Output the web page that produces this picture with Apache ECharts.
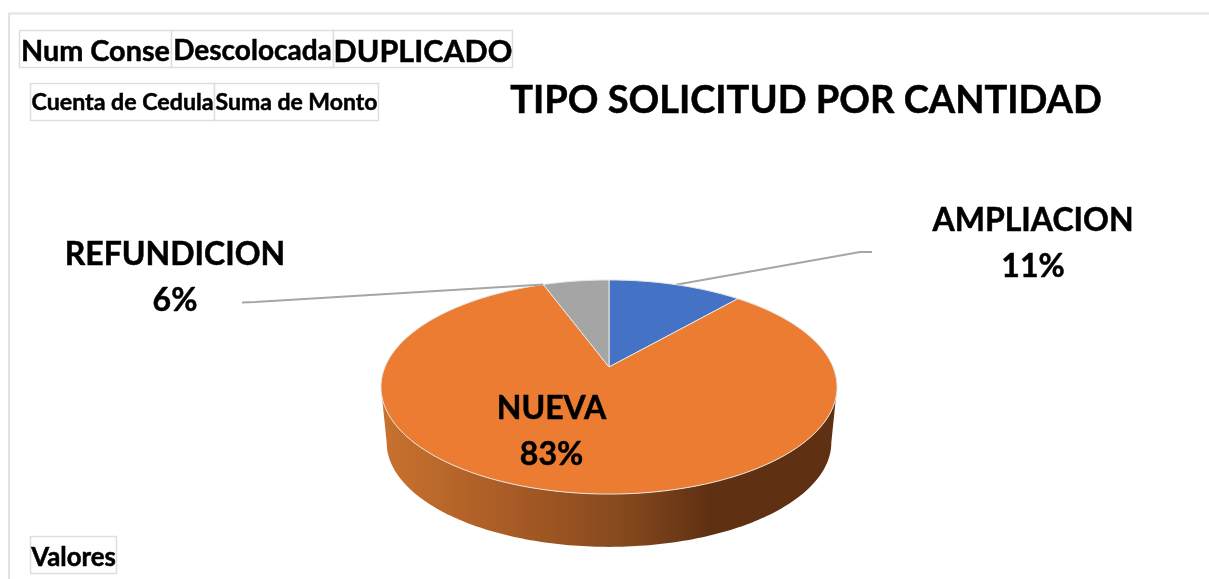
<!DOCTYPE html>
<html><head><meta charset="utf-8">
<style>html,body{margin:0;padding:0;background:#fff}#c{width:1209px;height:579px}</style>
<script src="https://cdn.jsdelivr.net/npm/echarts@6/dist/echarts.min.js"></script>
</head><body><div id="c"></div>
<script>
const categories = ['AMPLIACION', 'NUEVA', 'REFUNDICION'];
const values = [11.4, 83, 5.6];
const colors = ['#4472c4', '#eb7c31', '#a5a5a5'];
const titleText = 'TIPO SOLICITUD POR CANTIDAD';
const fieldButtons = [
  ['Num Conse', 19, 30, 152, 37, 28.8, 3],
  ['Descolocada', 171, 30, 162, 37, 28, 2],
  ['DUPLICADO', 333, 30, 179, 37, 30.5, 4],
  ['Cuenta de Cedula', 30, 83, 184, 37, 23.2, 1],
  ['Suma de Monto', 214, 83, 164, 37, 23, 1],
  ['Valores', 30, 536, 86, 37, 25.8, 3]
];
const FONT = 'Lato, Carlito, sans-serif';
// 3D pie geometry
const CX = 609, CY = 367, A = 224, B = 103.3, K = 0.187, DEPTH = 56, SHRINK = 0.975;
const labelPos = {
  AMPLIACION: {x: 1033, y: 244, leader: [[860, 252], [872, 252]], leaderAt: 0.5},
  NUEVA: {x: 551.5, y: 431.5},
  REFUNDICION: {x: 175, y: 278, leader: [[255, 302], [242, 302.5]], leaderAt: 0}
};
const total = values.reduce((a, b) => a + b, 0);
function proj(t) {
  const d = 1 + K * Math.cos(t);
  return [A * Math.sin(t) / d, B * Math.cos(t) / d];
}
function topFace(t) { const p = proj(t); return [CX + p[0], CY - p[1]]; }
function lowFace(t) { const p = proj(t); return [CX + p[0] * SHRINK, CY + DEPTH - p[1] * SHRINK]; }
function arc(fn, a, b) {
  const pts = [], n = Math.max(4, Math.ceil(Math.abs(b - a) * 60));
  for (let i = 0; i <= n; i++) pts.push(fn(a + (b - a) * i / n));
  return pts;
}
const silhouette = Math.acos(-K);
function renderItem(params, api) {
  const i = params.dataIndex;
  let before = 0;
  for (let j = 0; j < i; j++) before += values[j];
  const start = before / total * Math.PI * 2;
  const end = (before + api.value(0)) / total * Math.PI * 2;
  const name = categories[i];
  const lp = labelPos[name];
  const children = [];
  if (lp.leader) {
    const anchor = topFace(start + (end - start) * lp.leaderAt);
    children.push({type: 'polyline', shape: {points: [anchor].concat(lp.leader)},
      style: {stroke: '#a6a6a6', lineWidth: 2, fill: null}});
  }
  if (name === 'NUEVA') {
    const up = arc(topFace, silhouette, Math.PI * 2 - silhouette);
    const low = arc(lowFace, Math.PI * 2 - silhouette, silhouette);
    children.push({type: 'polygon', shape: {points: up.concat(low)},
      style: {fill: {type: 'linear', x: 0, y: 0, x2: 1, y2: 0, colorStops: [
        {offset: 0, color: '#c9722f'}, {offset: 0.3, color: '#a65a25'},
        {offset: 0.55, color: '#83471d'}, {offset: 0.72, color: '#5f3012'},
        {offset: 1, color: '#5f3112'}]}, stroke: null}});
  }
  children.push({type: 'polygon', shape: {points: [[CX, CY]].concat(arc(topFace, start, end))},
    style: {fill: colors[i], stroke: '#e6e6e6', lineWidth: 1, lineJoin: 'round'}});
  children.push({type: 'text', style: {
    text: name + '\n' + Math.round(api.value(0) / total * 100) + '%',
    x: lp.x, y: lp.y, align: 'center', verticalAlign: 'middle',
    font: 'bold 32px ' + FONT, lineHeight: 46, fill: '#000', stroke: '#000', lineWidth: 0.5}, z2: 50});
  return {type: 'group', children};
}
const graphics = [
  {type: 'polyline', silent: true, shape: {points: [[9, 579], [9, 13.5], [1209, 13.5]]},
   style: {stroke: '#e2e2e2', lineWidth: 2, fill: null}}
];
fieldButtons.forEach(b => {
  graphics.push({type: 'rect', shape: {x: b[1] + .5, y: b[2] + .5, width: b[3], height: b[4]},
    style: {fill: '#fff', stroke: '#dedede', lineWidth: 1.5}});
  graphics.push({type: 'text', z: 10, style: {text: b[0], x: b[1] + b[3] / 2 + .5, y: b[2] + b[4] / 2 + b[6],
    align: 'center', verticalAlign: 'middle', font: 'bold ' + b[5] + 'px ' + FONT, fill: '#000', stroke: '#000', lineWidth: 0.5}});
});
const chart = echarts.init(document.getElementById('c'), null, {renderer: 'canvas'});
chart.setOption({
  animation: false,
  backgroundColor: '#fff',
  title: {text: titleText, left: 801, top: 96, textAlign: 'center', textVerticalAlign: 'middle',
    textStyle: {fontFamily: FONT, fontWeight: 'bold', fontSize: 38, color: '#000', textBorderColor: '#000', textBorderWidth: 0.5}},
  graphic: graphics,
  series: [{type: 'custom', coordinateSystem: 'none', renderItem,
    data: values.map((v, i) => ({name: categories[i], value: [v]})), silent: true}]
});
</script></body></html>
